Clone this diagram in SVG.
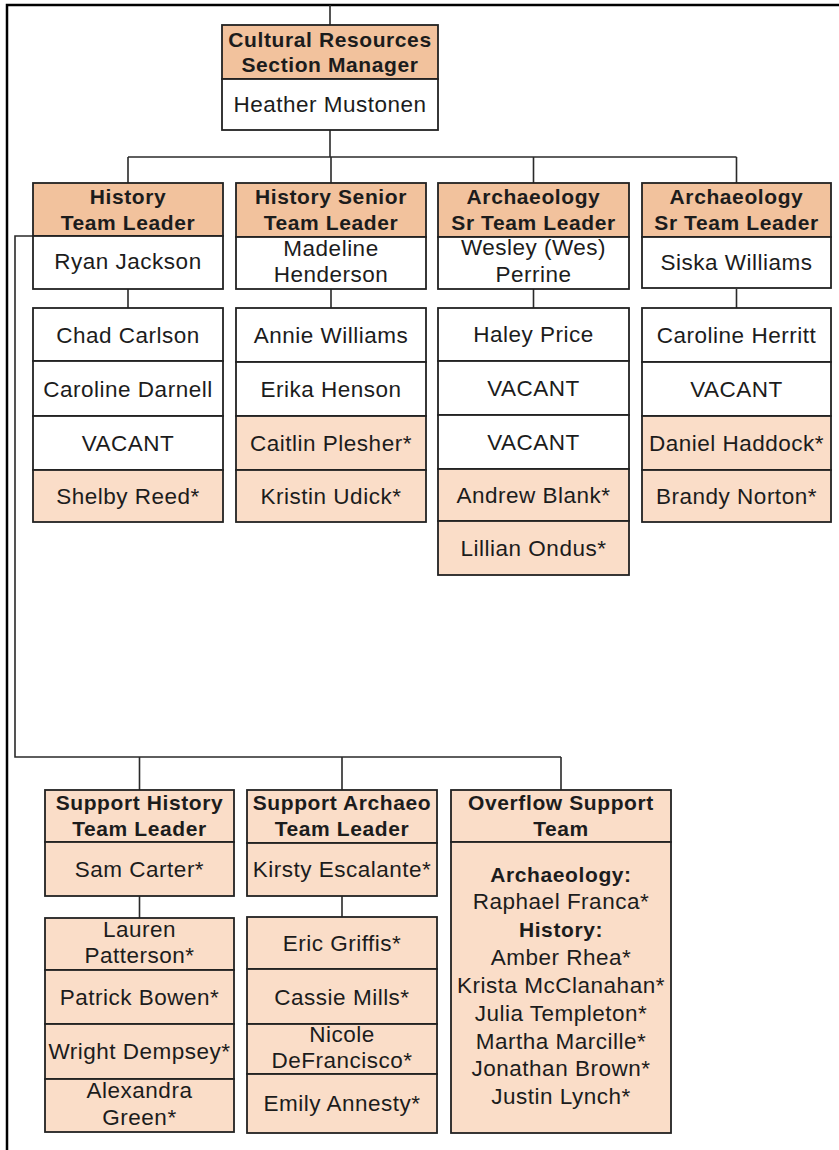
<svg xmlns="http://www.w3.org/2000/svg" width="839" height="1150" viewBox="0 0 839 1150">
  <style>
    .frame { fill: none; stroke: #000; stroke-width: 2.5; }
    .wire { fill: none; stroke: #2a2a2a; stroke-width: 1.6; }
    .cell { stroke: #222; stroke-width: 1.8; }
    .head { fill: #F2C29D; }
    .peach { fill: #FADDC8; }
    .white { fill: #ffffff; }
    text { font-family: "Liberation Sans", Arial, sans-serif; fill: #1c1c1c; text-anchor: middle; }
    .b { font-size: 21px; font-weight: bold; letter-spacing: 0.6px; }
    .r { font-size: 22.5px; letter-spacing: 0.5px; }
  </style>

  <rect x="0" y="0" width="839" height="1150" fill="#ffffff"/>

  <!-- page frame: top and left edges only -->
  <path class="frame" d="M7,1150 V5 H839"/>

  <!-- reporting lines -->
  <g id="connectors">
    <path class="wire" d="M330,5 V25"/>
    <path class="wire" d="M330,130 V157"/>
    <path class="wire" d="M128,157 H736.5"/>
    <path class="wire" d="M128,157 V183 M331,157 V183 M533.5,157 V183 M736.5,157 V183"/>
    <path class="wire" d="M128,289 V308 M331,289 V308 M533.5,289 V308 M736.5,289 V308"/>
    <path class="wire" d="M33,236 H15 V757 H561"/>
    <path class="wire" d="M139.5,757 V790 M342,757 V790 M561,757 V790"/>
    <path class="wire" d="M139.5,896 V918 M342,896 V917"/>
  </g>

  <!-- section manager -->
  <g id="section-manager">
    <rect class="cell head" x="222" y="25" width="216" height="54"/>
    <rect class="cell white" x="222" y="79" width="216" height="51"/>
    <text class="b" x="330" y="46.5">Cultural Resources</text>
    <text class="b" x="330" y="72">Section Manager</text>
    <text class="r" x="330" y="112">Heather Mustonen</text>
  </g>

  <!-- history team leader -->
  <g id="history-team-leader">
    <rect class="cell head" x="33" y="183" width="190" height="53"/>
    <rect class="cell white" x="33" y="236" width="190" height="53"/>
    <text class="b" x="128" y="204">History</text>
    <text class="b" x="128" y="229.5">Team Leader</text>
    <text class="r" x="128" y="269">Ryan Jackson</text>
  </g>
  <g id="history-team">
    <rect class="cell white" x="33" y="308" width="190" height="53"/>
    <rect class="cell white" x="33" y="361" width="190" height="55"/>
    <rect class="cell white" x="33" y="416" width="190" height="54"/>
    <rect class="cell peach" x="33" y="470" width="190" height="52"/>
    <text class="r" x="128" y="342.5">Chad Carlson</text>
    <text class="r" x="128" y="396.5">Caroline Darnell</text>
    <text class="r" x="128" y="451">VACANT</text>
    <text class="r" x="128" y="504">Shelby Reed*</text>
  </g>

  <!-- history senior team leader -->
  <g id="history-senior-team-leader">
    <rect class="cell head" x="236" y="183" width="190" height="54"/>
    <rect class="cell white" x="236" y="237" width="190" height="52"/>
    <text class="b" x="331" y="204">History Senior</text>
    <text class="b" x="331" y="229.5">Team Leader</text>
    <text class="r" x="331" y="256">Madeline</text>
    <text class="r" x="331" y="282">Henderson</text>
  </g>
  <g id="history-senior-team">
    <rect class="cell white" x="236" y="308" width="190" height="54"/>
    <rect class="cell white" x="236" y="362" width="190" height="54"/>
    <rect class="cell peach" x="236" y="416" width="190" height="54"/>
    <rect class="cell peach" x="236" y="470" width="190" height="52"/>
    <text class="r" x="331" y="342.5">Annie Williams</text>
    <text class="r" x="331" y="397">Erika Henson</text>
    <text class="r" x="331" y="451">Caitlin Plesher*</text>
    <text class="r" x="331" y="504">Kristin Udick*</text>
  </g>

  <!-- archaeology senior team leader (Perrine) -->
  <g id="archaeology-leader-perrine">
    <rect class="cell head" x="438" y="183" width="191" height="54"/>
    <rect class="cell white" x="438" y="237" width="191" height="52"/>
    <text class="b" x="533.5" y="204">Archaeology</text>
    <text class="b" x="533.5" y="229.5">Sr Team Leader</text>
    <text class="r" x="533.5" y="255">Wesley (Wes)</text>
    <text class="r" x="533.5" y="282">Perrine</text>
  </g>
  <g id="archaeology-team-perrine">
    <rect class="cell white" x="438" y="308" width="191" height="53"/>
    <rect class="cell white" x="438" y="361" width="191" height="54"/>
    <rect class="cell white" x="438" y="415" width="191" height="54"/>
    <rect class="cell peach" x="438" y="469" width="191" height="52"/>
    <rect class="cell peach" x="438" y="521" width="191" height="54"/>
    <text class="r" x="533.5" y="342">Haley Price</text>
    <text class="r" x="533.5" y="396">VACANT</text>
    <text class="r" x="533.5" y="450">VACANT</text>
    <text class="r" x="533.5" y="503">Andrew Blank*</text>
    <text class="r" x="533.5" y="556">Lillian Ondus*</text>
  </g>

  <!-- archaeology senior team leader (Williams) -->
  <g id="archaeology-leader-williams">
    <rect class="cell head" x="642" y="183" width="189" height="54"/>
    <rect class="cell white" x="642" y="237" width="189" height="51"/>
    <text class="b" x="736.5" y="204">Archaeology</text>
    <text class="b" x="736.5" y="229.5">Sr Team Leader</text>
    <text class="r" x="736.5" y="270">Siska Williams</text>
  </g>
  <g id="archaeology-team-williams">
    <rect class="cell white" x="642" y="308" width="189" height="54"/>
    <rect class="cell white" x="642" y="362" width="189" height="54"/>
    <rect class="cell peach" x="642" y="416" width="189" height="54"/>
    <rect class="cell peach" x="642" y="470" width="189" height="52"/>
    <text class="r" x="736.5" y="342.5">Caroline Herritt</text>
    <text class="r" x="736.5" y="397">VACANT</text>
    <text class="r" x="736.5" y="451">Daniel Haddock*</text>
    <text class="r" x="736.5" y="504">Brandy Norton*</text>
  </g>

  <!-- support history team leader -->
  <g id="support-history-leader">
    <rect class="cell peach" x="45" y="790" width="189" height="52"/>
    <rect class="cell peach" x="45" y="842" width="189" height="54"/>
    <text class="b" x="139.5" y="810">Support History</text>
    <text class="b" x="139.5" y="835.5">Team Leader</text>
    <text class="r" x="139.5" y="877">Sam Carter*</text>
  </g>
  <g id="support-history-team">
    <rect class="cell peach" x="45" y="918" width="189" height="52"/>
    <rect class="cell peach" x="45" y="970" width="189" height="54"/>
    <rect class="cell peach" x="45" y="1024" width="189" height="55"/>
    <rect class="cell peach" x="45" y="1079" width="189" height="53"/>
    <text class="r" x="139.5" y="937">Lauren</text>
    <text class="r" x="139.5" y="963">Patterson*</text>
    <text class="r" x="139.5" y="1005">Patrick Bowen*</text>
    <text class="r" x="139.5" y="1059">Wright Dempsey*</text>
    <text class="r" x="139.5" y="1098">Alexandra</text>
    <text class="r" x="139.5" y="1125">Green*</text>
  </g>

  <!-- support archaeology team leader -->
  <g id="support-archaeo-leader">
    <rect class="cell peach" x="247" y="790" width="190" height="53"/>
    <rect class="cell peach" x="247" y="843" width="190" height="53"/>
    <text class="b" x="342" y="810">Support Archaeo</text>
    <text class="b" x="342" y="835.5">Team Leader</text>
    <text class="r" x="342" y="877">Kirsty Escalante*</text>
  </g>
  <g id="support-archaeo-team">
    <rect class="cell peach" x="247" y="917" width="190" height="52"/>
    <rect class="cell peach" x="247" y="969" width="190" height="55"/>
    <rect class="cell peach" x="247" y="1024" width="190" height="50"/>
    <rect class="cell peach" x="247" y="1074" width="190" height="59"/>
    <text class="r" x="342" y="951">Eric Griffis*</text>
    <text class="r" x="342" y="1004.5">Cassie Mills*</text>
    <text class="r" x="342" y="1042">Nicole</text>
    <text class="r" x="342" y="1068">DeFrancisco*</text>
    <text class="r" x="342" y="1110.5">Emily Annesty*</text>
  </g>

  <!-- overflow support team -->
  <g id="overflow-support">
    <rect class="cell peach" x="451" y="790" width="220" height="52"/>
    <rect class="cell peach" x="451" y="842" width="220" height="291"/>
    <text class="b" x="561" y="810">Overflow Support</text>
    <text class="b" x="561" y="835.5">Team</text>
    <text class="b" x="561" y="881.5">Archaeology:</text>
    <text class="r" x="561" y="909">Raphael Franca*</text>
    <text class="b" x="561" y="937">History:</text>
    <text class="r" x="561" y="965">Amber Rhea*</text>
    <text class="r" x="561" y="993">Krista McClanahan*</text>
    <text class="r" x="561" y="1021">Julia Templeton*</text>
    <text class="r" x="561" y="1048.5">Martha Marcille*</text>
    <text class="r" x="561" y="1076">Jonathan Brown*</text>
    <text class="r" x="561" y="1103.5">Justin Lynch*</text>
  </g>
</svg>
